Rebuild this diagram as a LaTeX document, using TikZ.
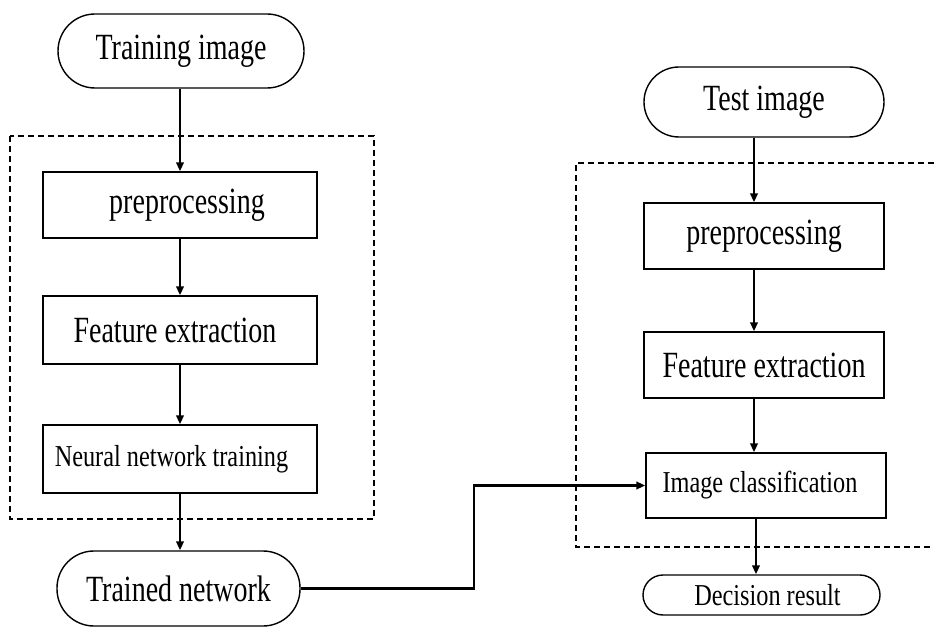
\documentclass[tikz,border=0pt]{standalone}
\usepackage{fontspec}
\setmainfont{Liberation Serif}
\usetikzlibrary{arrows.meta}
\newcommand{\bigtxt}[1]{\fontsize{28}{30}\selectfont\scalebox{1}[1.32]{#1}}
\newcommand{\smalltxt}[1]{\fontsize{24.3}{26}\selectfont\scalebox{1}[1.25]{#1}}
\begin{document}
\begin{tikzpicture}[x=1pt,y=-1pt,
  stepbox/.style={draw,line width=1.4pt,inner sep=0pt,rectangle},
  term/.style={draw,line width=1.4pt,inner sep=0pt,rounded corners=37pt},
  flow/.style={line width=2.5pt,-{Triangle[length=9pt,width=7.5pt]}},
  grp/.style={line width=2pt,dash pattern=on 6pt off 4pt}]
\useasboundingbox (0,0) rectangle (934,628);
\fill[white] (0,0) rectangle (934,628);
% left column
\node[term,minimum width=246pt,minimum height=74pt] (timg) at (181,51) {\bigtxt{Training image}};
\node[stepbox,minimum width=274pt,minimum height=66pt] (lpre) at (180,205) {\hspace{14pt}\bigtxt{preprocessing}};
\node[stepbox,minimum width=274pt,minimum height=68pt] (lfe) at (180,330) {\hspace{-10pt}\bigtxt{Feature extraction}};
\node[stepbox,minimum width=274pt,minimum height=68pt] (lnn) at (180,459) {\hspace{-17pt}\smalltxt{Neural network training}};
\node[term,minimum width=243pt,minimum height=75pt] (tnet) at (178.5,588.5) {\bigtxt{Trained network}};
\coordinate (lbox1) at (10,136);
\coordinate (lbox2) at (374,519);
\draw[grp] (lbox1) rectangle (lbox2);
% right column
\node[term,minimum width=240pt,minimum height=70pt,rounded corners=35pt] (simg) at (764,102) {\bigtxt{Test image}};
\node[stepbox,minimum width=240pt,minimum height=66pt] (rpre) at (764,236) {\bigtxt{preprocessing}};
\node[stepbox,minimum width=240pt,minimum height=66pt] (rfe) at (764,365) {\bigtxt{Feature extraction}};
\node[stepbox,minimum width=240pt,minimum height=65pt] (ric) at (766,485.5) {\hspace{-12pt}\smalltxt{Image classification}};
\node[term,minimum width=237pt,minimum height=40pt,rounded corners=20pt] (dec) at (761.5,595) {\hspace{12pt}\smalltxt{Decision result}};
\coordinate (rtl) at (576,163);
\coordinate (rtr) at (934,163);
\coordinate (rbl) at (576,547);
\coordinate (rbr) at (934,547);
\draw[grp] (rtr) -- (rtl) -- (rbl) -- (rbr);
% connectors
\coordinate (lx) at (180,0);
\coordinate (rx) at (754,0);
\coordinate (rx2) at (756,0);
\coordinate (bendx) at (474,0);
\draw[flow] (timg.south -| lx) -- (lpre.north -| lx);
\draw[flow] (lpre.south -| lx) -- (lfe.north -| lx);
\draw[flow] (lfe.south -| lx) -- (lnn.north -| lx);
\draw[flow] (lnn.south -| lx) -- (tnet.north -| lx);
\draw[flow] (simg.south -| rx) -- (rpre.north -| rx);
\draw[flow] (rpre.south -| rx) -- (rfe.north -| rx);
\draw[flow] (rfe.south -| rx) -- (ric.north -| rx);
\draw[flow] (ric.south -| rx2) -- (dec.north -| rx2);
\draw[flow] (tnet.east) -- (tnet.east -| bendx) -- (ric.west -| bendx) -- (ric.west);
\end{tikzpicture}
\end{document}
